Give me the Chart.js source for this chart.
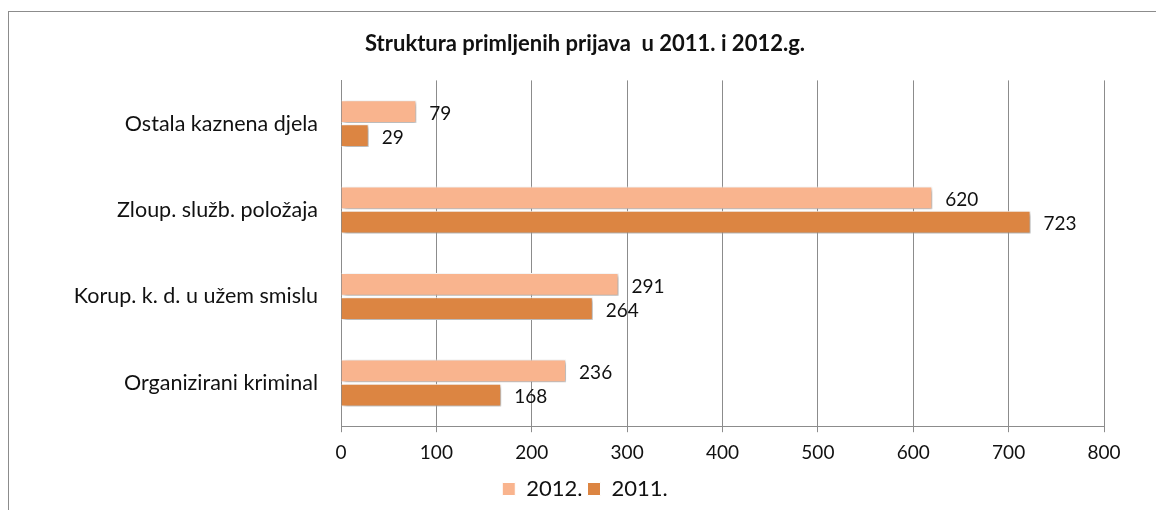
<!DOCTYPE html>
<html lang="hr">
<head>
  <meta charset="UTF-8">
  <title>Struktura primljenih prijava</title>
  <script src="https://cdn.jsdelivr.net/npm/chart.js"></script>
  <style>
    html, body { margin: 0; padding: 0; background: #fff; }
    #wrap { position: relative; width: 1156px; height: 510px; }
    #frame { position: absolute; left: 8px; top: 11px; width: 1160px; height: 520px;
             border-left: 1px solid #8c8c8c; border-top: 1px solid #8c8c8c; }
    canvas { position: absolute; left: 0; top: 0; }
  </style>
</head>
<body>
  <div id="wrap">
    <div id="frame"></div>
    <canvas id="chart" width="1156" height="510"></canvas>
  </div>

  <script>
    const kategorije = ["Ostala kaznena djela", "Zloup. služb. položaja", "Korup. k. d. u užem smislu", "Organizirani kriminal"];
    const god2012 = [79, 620, 291, 236];
    const god2011 = [29, 723, 264, 168];
    const xTicks = [0, 100, 200, 300, 400, 500, 600, 700, 800];

    const font = "Lato, 'Open Sans', 'Liberation Sans', sans-serif";

    // natpisi vrijednosti uz kraj stupca
    const valueLabels = {
      id: "valueLabels",
      afterDatasetsDraw(chart) {
        const ctx = chart.ctx;
        ctx.save();
        ctx.font = "19px " + font;
        ctx.fillStyle = "#111";
        ctx.textBaseline = "middle";
        ctx.textAlign = "left";
        chart.data.datasets.forEach((ds, i) => {
          chart.getDatasetMeta(i).data.forEach((bar, j) => {
            ctx.fillText(ds.data[j], bar.x + 13, bar.y + 2);
          });
        });
        ctx.restore();
      }
    };

    // lagana sjena ispod stupaca
    const barShadow = {
      id: "barShadow",
      beforeDatasetsDraw(chart) {
        const ctx = chart.ctx;
        ctx.save();
        ctx.shadowColor = "rgba(0,0,0,0.35)";
        ctx.shadowBlur = 4;
        ctx.shadowOffsetX = 2;
        ctx.shadowOffsetY = 2;
      },
      afterDatasetsDraw(chart) {
        chart.ctx.restore();
      }
    };

    new Chart(document.getElementById("chart"), {
      type: "bar",
      data: {
        labels: kategorije,
        datasets: [
          { label: "2012.", data: god2012, backgroundColor: "#F9B48E", borderColor: "#fff", borderWidth: 1,
            categoryPercentage: 0.56, barPercentage: 0.94 },
          { label: "2011.", data: god2011, backgroundColor: "#DC8542", borderColor: "#fff", borderWidth: 1,
            categoryPercentage: 0.56, barPercentage: 0.94 }
        ]
      },
      options: {
        indexAxis: "y",
        responsive: false,
        animation: false,
        layout: { padding: { left: 66, right: 52, top: 31, bottom: 0 } },
        scales: {
          x: {
            min: 0, max: 800,
            afterBuildTicks: s => { s.ticks = xTicks.map(v => ({ value: v })); },
            grid: { color: "#8c8c8c", lineWidth: 1, tickLength: 6, drawTicks: true },
            border: { color: "#8c8c8c" },
            ticks: { color: "#111", font: { family: font, size: 19 }, padding: 9 }
          },
          y: {
            afterFit: s => { s.width = 341 - 66; },
            grid: { display: false },
            border: { color: "#8c8c8c" },
            ticks: { color: "#111", font: { family: font, size: 21.5 }, padding: 15 }
          }
        },
        plugins: {
          title: {
            display: true,
            text: "Struktura primljenih prijava  u 2011. i 2012.g.",
            color: "#111",
            font: { family: font, size: 22, weight: "bold" },
            padding: { top: 0, bottom: 23 }
          },
          legend: {
            position: "bottom",
            labels: {
              color: "#111",
              font: { family: font, size: 22 },
              boxWidth: 13, boxHeight: 13, padding: 5
            }
          },
          tooltip: { enabled: false }
        }
      },
      plugins: [barShadow, valueLabels]
    });
  </script>
</body>
</html>
